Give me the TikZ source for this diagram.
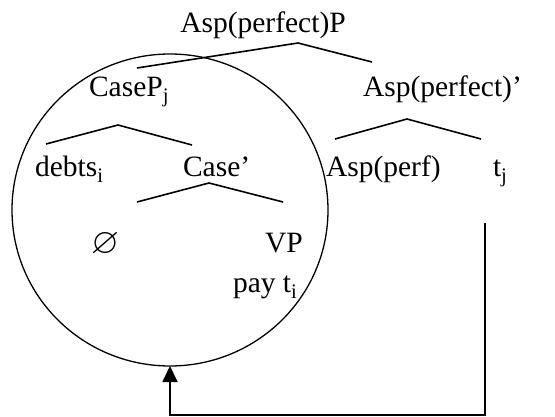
\documentclass[tikz,border=0pt]{standalone}
\usepackage{amssymb}
\usepackage{fontspec}
\setmainfont{Liberation Serif}
\usetikzlibrary{arrows.meta,shapes.geometric}
\begin{document}
\begin{tikzpicture}[x=1pt,y=-1pt,
  lbl/.style={inner sep=0pt,outer sep=0pt,font=\fontsize{29.5}{32}\selectfont},
  branch/.style={line width=1.6pt},
  loopline/.style={line width=1.3pt},
  movearrow/.style={line width=1.8pt,-{Triangle[width=15pt,length=16pt]}}]
\useasboundingbox (0,0) rectangle (555,417);
% circle
\node[ellipse,draw,loopline,minimum width=316pt,minimum height=312pt,inner sep=0pt,outer sep=0pt] (circ) at (170,210) {};
% labels
\node[lbl,anchor=base] (ap) at (263,33) {Asp(perfect)P};
\node[lbl,anchor=base west] (casep) at (89,97) {CaseP\textsubscript{j}};
\node[lbl,anchor=base west] (apbar) at (363,97) {Asp(perfect)’};
\node[lbl,anchor=base west] (debts) at (35,177) {debts\textsubscript{i}};
\node[lbl,anchor=base west] (casebar) at (183,177) {Case’};
\node[lbl,anchor=base west] (aspperf) at (326,177) {Asp(perf)};
\node[lbl,anchor=base west] (tj) at (493,177) {t\textsubscript{j}};
\node[lbl,font=\fontsize{36}{36}\selectfont] (empty) at (105,245) {$\varnothing$};
\node[lbl,anchor=base west] (vp) at (265,253) {VP};
\node[lbl,anchor=base west] (pay) at (233,293) {pay t\textsubscript{i}};
% branch coordinates
\coordinate (apA) at (298,43);
\coordinate (apL) at (137,68);
\coordinate (apR) at (372,62);
\coordinate (cpA) at (118,125);
\coordinate (cpL) at (46,144);
\coordinate (cpR) at (192,145);
\coordinate (abA) at (407,119);
\coordinate (abL) at (335,139);
\coordinate (abR) at (481,139);
\coordinate (cbA) at (209,183);
\coordinate (cbL) at (137,202);
\coordinate (cbR) at (283,202);
\draw[branch] (apL) -- (apA) -- (apR);
\draw[branch] (cpL) -- (cpA) -- (cpR);
\draw[branch] (abL) -- (abA) -- (abR);
\draw[branch] (cbL) -- (cbA) -- (cbR);
% movement arrow
\coordinate (mvS) at (485,223);
\coordinate (mvC) at (485,415);
\draw[movearrow] (mvS) -- (mvC) -| (circ.south);
\end{tikzpicture}
\end{document}
